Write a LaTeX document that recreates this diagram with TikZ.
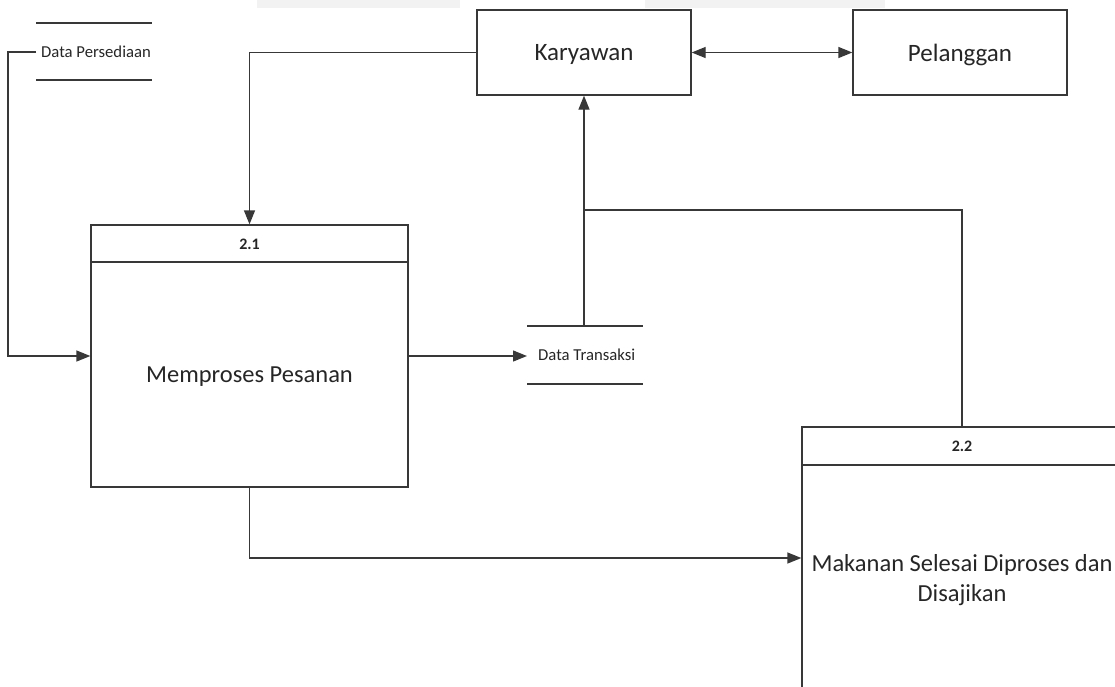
\documentclass[tikz,border=0pt]{standalone}
\usepackage{fontspec}
\setmainfont{Carlito}
\usetikzlibrary{arrows.meta}
\begin{document}
\begin{tikzpicture}[x=1pt,y=-1pt,
  ln/.style={line width=1.3pt,draw=black!78},
  tip/.tip={Triangle[length=14pt,width=11pt]},
  arr/.style={ln,-tip},
  ent/.style={ln,rectangle,minimum width=214pt,minimum height=85pt,inner sep=0pt,font=\fontsize{25}{30}\selectfont,text=black!85},
  entl/.style={inner sep=0pt,font=\fontsize{25}{30}\selectfont,text=black!85},
  proc/.style={ln,rectangle,minimum width=317pt,minimum height=262pt,inner sep=0pt},
  lbl/.style={inner sep=0pt,font=\fontsize{24.5}{30}\selectfont,align=center,text=black!85},
  num/.style={inner sep=0pt,font=\bfseries\fontsize{16}{18}\selectfont,text=black!85},
  storel/.style={inner sep=0pt,font=\fontsize{16.7}{19}\selectfont,anchor=west,text=black!85}]
\useasboundingbox (0,0) rectangle (1115,686);
\clip (0,0) rectangle (1115,686);
\fill[black!5] (257,0) rectangle (460,8);
\fill[black!5] (645,0) rectangle (885,8);
% external entities
\node[ent] (kary) at (584,52.5) {};
\node[entl] (karyt) at (584,54.5) {Karyawan};
\node[ent] (pel) at (960,52.5) {};
\node[entl] (pelt) at (960,54.5) {Pelanggan};
% process 2.1
\node[proc] (p21) at (249.5,356) {};
\draw[ln] (91,262) -- (408,262);
\node[num] (n21) at (249.5,244) {2.1};
\node[lbl] (t21) at (249.5,377) {Memproses Pesanan};
% process 2.2
\node[proc,minimum width=320pt] (p22) at (962,558) {};
\draw[ln] (802,465) -- (1122,465);
\node[num] (n22) at (962,446) {2.2};
\node[lbl] (t22) at (962,580) {Makanan Selesai Diproses dan\\Disajikan};
% data stores
\draw[ln] (36,23) -- (152,23) (36,80) -- (152,80);
\node[storel] (dp) at (41,52) {Data Persediaan};
\draw[ln] (527,326) -- (643,326) (527,384) -- (643,384);
\node[storel] (dt) at (538,355) {Data Transaksi};
\coordinate (dpL) at (36,52);
\coordinate (dtL) at (527,356);
\coordinate (dtT) at (584,326);
\coordinate (jn) at (584,210);
% flows
\draw[ln,tip-tip] (kary.east) -- (pel.west);
\draw[arr] (kary.west) -| (p21.north);
\draw[arr] (dpL) -- (8,52) |- (p21.west);
\draw[arr] (p21.east) -- (dtL);
\draw[arr] (dtT) -- (kary.south);
\draw[ln] (p22.north) |- (jn);
\draw[arr] (p21.south) |- (p22.west);
\end{tikzpicture}
\end{document}
